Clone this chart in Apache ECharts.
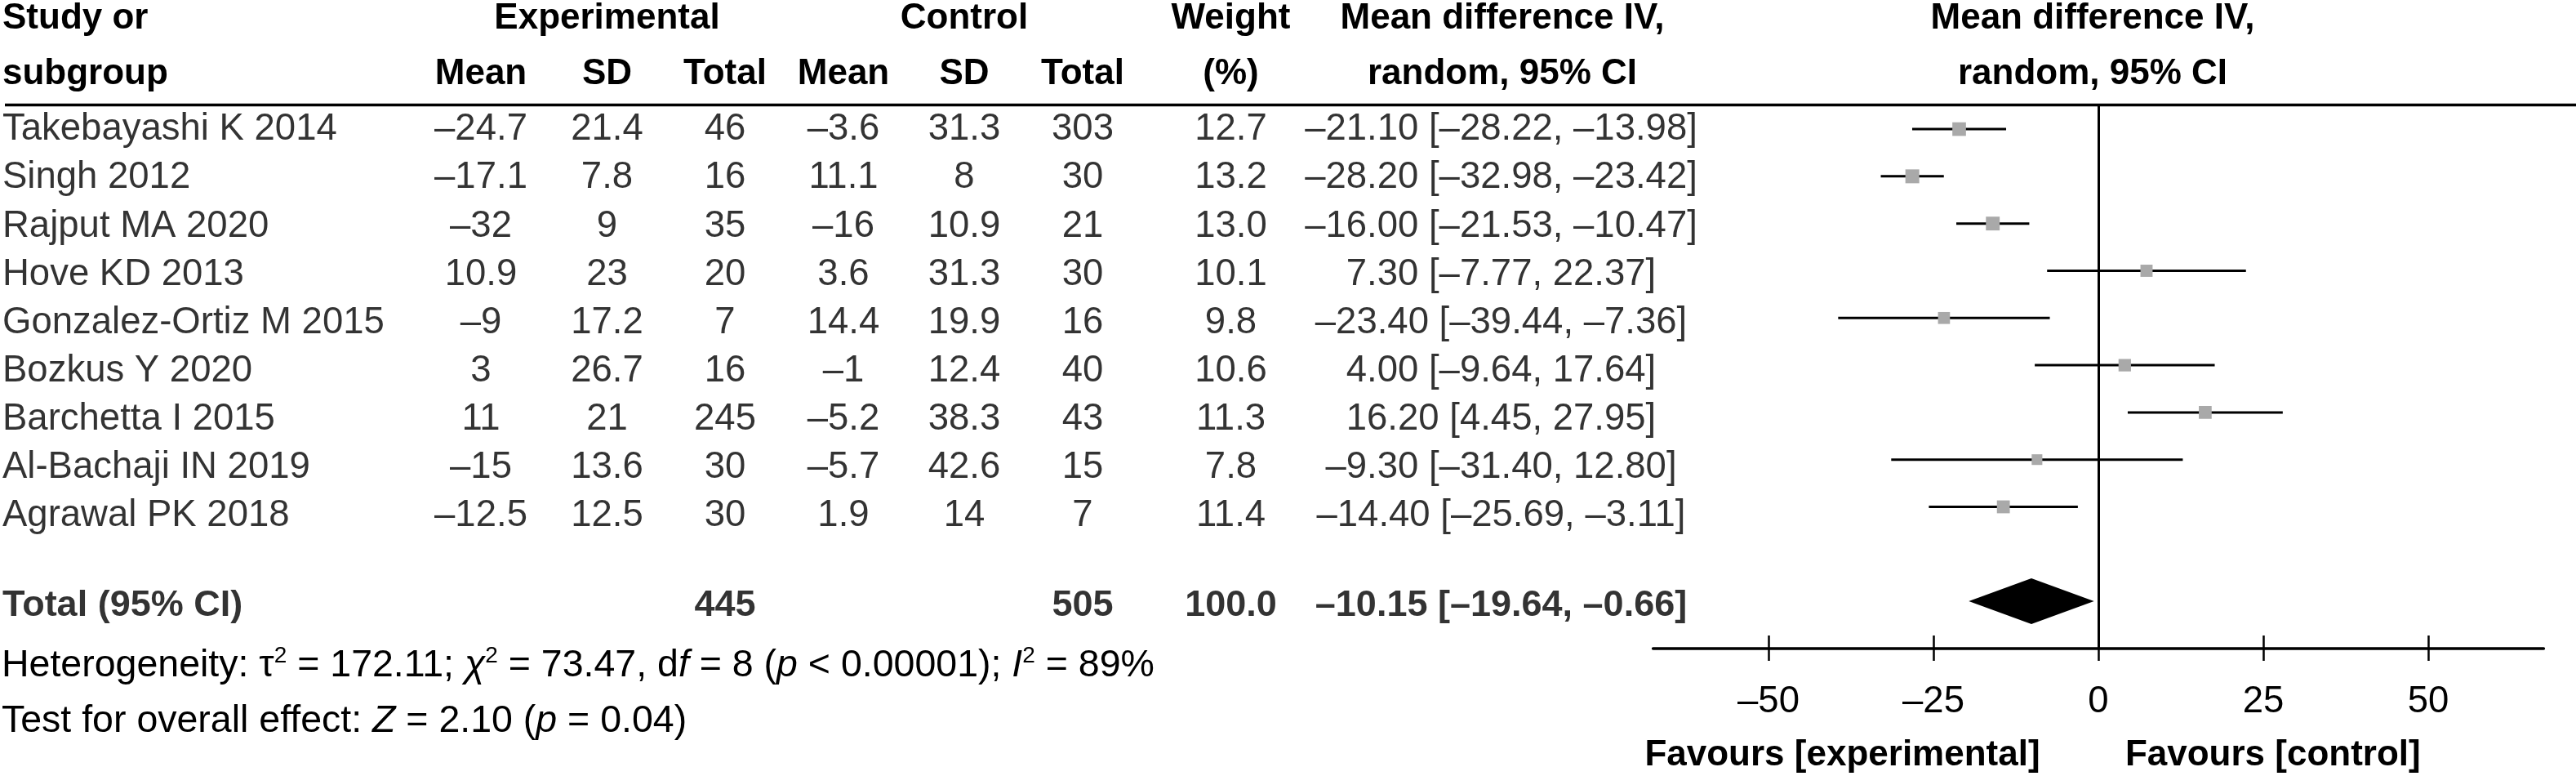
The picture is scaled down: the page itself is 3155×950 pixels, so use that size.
<!DOCTYPE html>
<html><head><meta charset="utf-8">
<script src="https://cdn.jsdelivr.net/npm/echarts@6/dist/echarts.min.js"></script>
<style>html,body{margin:0;padding:0;background:#fff}#c{width:3155px;height:950px}</style>
</head><body><div id="c"></div>
<script>
// ---------------- data ----------------
const studies = ['Takebayashi K 2014','Singh 2012','Rajput MA 2020','Hove KD 2013','Gonzalez-Ortiz M 2015','Bozkus Y 2020','Barchetta I 2015','Al-Bachaji IN 2019','Agrawal PK 2018'];
const expMean = [-24.7, -17.1, -32, 10.9, -9, 3, 11, -15, -12.5];
const expSD   = [21.4, 7.8, 9, 23, 17.2, 26.7, 21, 13.6, 12.5];
const expN    = [46, 16, 35, 20, 7, 16, 245, 30, 30];
const ctlMean = [-3.6, 11.1, -16, 3.6, 14.4, -1, -5.2, -5.7, 1.9];
const ctlSD   = [31.3, 8, 10.9, 31.3, 19.9, 12.4, 38.3, 42.6, 14];
const ctlN    = [303, 30, 21, 30, 16, 40, 43, 15, 7];
const weight  = [12.7, 13.2, 13.0, 10.1, 9.8, 10.6, 11.3, 7.8, 11.4];
const md      = [-21.10, -28.20, -16.00, 7.30, -23.40, 4.00, 16.20, -9.30, -14.40];
const ciLow   = [-28.22, -32.98, -21.53, -7.77, -39.44, -9.64, 4.45, -31.40, -25.69];
const ciHigh  = [-13.98, -23.42, -10.47, 22.37, -7.36, 17.64, 27.95, 12.80, -3.11];
const totalLabel = 'Total (95% CI)';
const totalExpN = 445, totalCtlN = 505, totalWeight = 100.0;
const totalMD = -10.15, totalLow = -19.64, totalHigh = -0.66;
const tickValues = [-50, -25, 0, 25, 50];
const heterogeneity = {tau2: '172.11', chi2: '73.47', df: '8', p: '0.00001', I2: '89%'};
const overall = {Z: '2.10', p: '0.04'};

// ---------------- layout / style ----------------
const FONT = 'Liberation Sans, Arial, sans-serif';
const FS = 45.5;      // body text
const FSB = 44;       // bold headers
const FSF = 46.5;     // footer text
const dash = s => String(s).replace(/-/g, '\u2013');
const COL = {name: 3, expMean: 589, expSD: 743.5, expN: 888, ctlMean: 1033, ctlSD: 1181, ctlN: 1326, weight: 1507.5, ci: 1838.5, plot: 2563};
const TOTAL_ROW_TABLE = 9.868;
const TOTAL_ROW_PLOT = 10;

const ciText = (m, l, h) => dash(m.toFixed(2)) + ' [' + dash(l.toFixed(2)) + ', ' + dash(h.toFixed(2)) + ']';

function textSeries(colX, texts, align, bold, rowPos) {
  return {
    type: 'scatter', xAxisIndex: 2, yAxisIndex: 1, symbolSize: 0, silent: true,
    data: texts.map((t, i) => [colX, rowPos ? rowPos[i] : i]),
    label: {
      show: true, position: 'inside', align: align, verticalAlign: 'middle',
      fontFamily: FONT, fontSize: bold ? FSB + 1 : FS, color: '#000', fontWeight: bold ? 'bold' : 'normal',
      formatter: p => texts[p.dataIndex]
    }
  };
}

const series = [
  textSeries(COL.name, studies, 'left'),
  textSeries(COL.expMean, expMean.map(dash), 'center'),
  textSeries(COL.expSD, expSD.map(dash), 'center'),
  textSeries(COL.expN, expN.map(String), 'center'),
  textSeries(COL.ctlMean, ctlMean.map(dash), 'center'),
  textSeries(COL.ctlSD, ctlSD.map(dash), 'center'),
  textSeries(COL.ctlN, ctlN.map(String), 'center'),
  textSeries(COL.weight, weight.map(w => w.toFixed(1)), 'center'),
  textSeries(COL.ci, md.map((m, i) => ciText(m, ciLow[i], ciHigh[i])), 'center'),
  textSeries(COL.name, [totalLabel], 'left', true, [TOTAL_ROW_TABLE]),
  textSeries(COL.expN, [String(totalExpN)], 'center', true, [TOTAL_ROW_TABLE]),
  textSeries(COL.ctlN, [String(totalCtlN)], 'center', true, [TOTAL_ROW_TABLE]),
  textSeries(COL.weight, [totalWeight.toFixed(1)], 'center', true, [TOTAL_ROW_TABLE]),
  textSeries(COL.ci, [ciText(totalMD, totalLow, totalHigh)], 'center', true, [TOTAL_ROW_TABLE]),
  {
    type: 'custom', xAxisIndex: 0, yAxisIndex: 0, silent: true,
    encode: {x: [1, 2, 3], y: 0},
    data: md.map((m, i) => [i, ciLow[i], m, ciHigh[i], weight[i]]),
    renderItem: (params, api) => {
      const y = api.value(0);
      const a = api.coord([api.value(1), y]);
      const c = api.coord([api.value(2), y]);
      const b = api.coord([api.value(3), y]);
      const s = 17 * Math.sqrt(api.value(4) / 13.2);
      return {type: 'group', children: [
        {type: 'line', shape: {x1: a[0], y1: a[1], x2: b[0], y2: b[1]}, style: {stroke: '#000', lineWidth: 3}},
        {type: 'rect', shape: {x: c[0] - s / 2, y: c[1] - s / 2, width: s, height: s}, style: {fill: '#a9a9a9'}}
      ]};
    },
    markLine: {
      silent: true, symbol: 'none', animation: false,
      label: {show: false},
      lineStyle: {color: '#000', width: 3, type: 'solid'},
      data: [{xAxis: 0}]
    }
  },
  {
    type: 'custom', xAxisIndex: 0, yAxisIndex: 0, silent: true,
    encode: {x: [1, 2, 3], y: 0},
    data: [[TOTAL_ROW_PLOT, totalLow, totalMD, totalHigh]],
    renderItem: (params, api) => {
      const y = api.value(0);
      const a = api.coord([api.value(1), y]);
      const c = api.coord([api.value(2), y]);
      const b = api.coord([api.value(3), y]);
      const hh = 28;
      return {type: 'polygon', shape: {points: [[a[0], c[1]], [c[0], c[1] - hh], [b[0], c[1]], [c[0], c[1] + hh]]}, style: {fill: '#000'}};
    }
  }
];

const axisCommon = {
  gridIndex: 0, type: 'value', min: -67.5, max: 67.5, position: 'bottom', offset: 0,
  splitLine: {show: false}
};

const hdr = (text, x, y, align) => ({
  type: 'text', silent: true,
  style: {text: text, x: x, y: y, fill: '#000', font: 'bold ' + FSB + 'px ' + FONT, textAlign: align || 'center', textVerticalAlign: 'middle'}
});

const richBase = {
  n: {fontFamily: FONT, fontSize: FSF, color: '#000', lineHeight: 52},
  i: {fontFamily: FONT, fontSize: FSF, color: '#000', fontStyle: 'italic', lineHeight: 52},
  s: {fontFamily: FONT, fontSize: 28, color: '#000', verticalAlign: 'top', lineHeight: 52}
};

const hetText = '{n|Heterogeneity: \u03C4}{s|2}{n| = ' + heterogeneity.tau2 + '; }{i|\u03C7}{s|2}{n| = ' + heterogeneity.chi2 +
  ', d}{i|f}{n| = ' + heterogeneity.df + ' (}{i|p}{n| < ' + heterogeneity.p + '); }{i|I}{s|2}{n| = ' + heterogeneity.I2 + '}';
const testText = '{n|Test for overall effect: }{i|Z}{n| = ' + overall.Z + ' (}{i|p}{n| = ' + overall.p + ')}';

const graphics = [
  {type: 'line', silent: true, shape: {x1: 6, y1: 128.5, x2: 3155, y2: 128.5}, style: {stroke: '#000', lineWidth: 3.5}},
  hdr('Study or', 3, 23, 'left'),
  hdr('subgroup', 3, 91, 'left'),
  hdr('Experimental', COL.expSD, 23),
  hdr('Control', COL.ctlSD, 23),
  hdr('Mean', COL.expMean, 91), hdr('SD', COL.expSD, 91), hdr('Total', COL.expN, 91),
  hdr('Mean', COL.ctlMean, 91), hdr('SD', COL.ctlSD, 91), hdr('Total', COL.ctlN, 91),
  hdr('Weight', COL.weight, 23), hdr('(%)', COL.weight, 91),
  hdr('Mean difference IV,', COL.ci + 1.5, 23), hdr('random, 95% CI', COL.ci + 1.5, 91),
  hdr('Mean difference IV,', COL.plot, 23), hdr('random, 95% CI', COL.plot, 91),
  hdr('Favours [experimental]', 2256.5, 925),
  hdr('Favours [control]', 2783.8, 925),
  {type: 'text', silent: true, style: {text: hetText, rich: richBase, x: 2, y: 815, textAlign: 'left', textVerticalAlign: 'middle', font: FSF + 'px ' + FONT}},
  {type: 'text', silent: true, style: {text: testText, rich: richBase, x: 2, y: 883, textAlign: 'left', textVerticalAlign: 'middle', font: FSF + 'px ' + FONT}}
];

const option = {
  backgroundColor: '#fff',
  animation: false,
  grid: [
    {left: 2024.6, width: 1090.8, top: 128, height: 665.9, containLabel: false},
    {left: 0, width: 3155, top: 129.25, height: 650.1, containLabel: false}
  ],
  xAxis: [
    Object.assign({}, axisCommon, {
      axisLine: {show: true, onZero: false, lineStyle: {color: '#000', width: 3.5}},
      axisTick: {show: true, customValues: tickValues, length: 15, inside: false, lineStyle: {color: '#000', width: 2.5}},
      axisLabel: {show: true, customValues: tickValues, formatter: v => dash(v), margin: 43, fontFamily: FONT, fontSize: FS, color: '#000'}
    }),
    Object.assign({}, axisCommon, {
      axisLine: {show: false, onZero: false},
      axisTick: {show: true, customValues: tickValues, length: 16, inside: true, lineStyle: {color: '#000', width: 2.5}},
      axisLabel: {show: false}
    }),
    {gridIndex: 1, type: 'value', min: 0, max: 3155, show: false}
  ],
  yAxis: [
    {gridIndex: 0, type: 'value', min: -0.52, max: 11, inverse: true, show: false},
    {gridIndex: 1, type: 'value', min: -0.5, max: 10.5, inverse: true, show: false}
  ],
  graphic: graphics,
  series: series
};

const chart = echarts.init(document.getElementById('c'), null, {renderer: 'canvas'});
chart.setOption(option);
</script>
</body></html>
